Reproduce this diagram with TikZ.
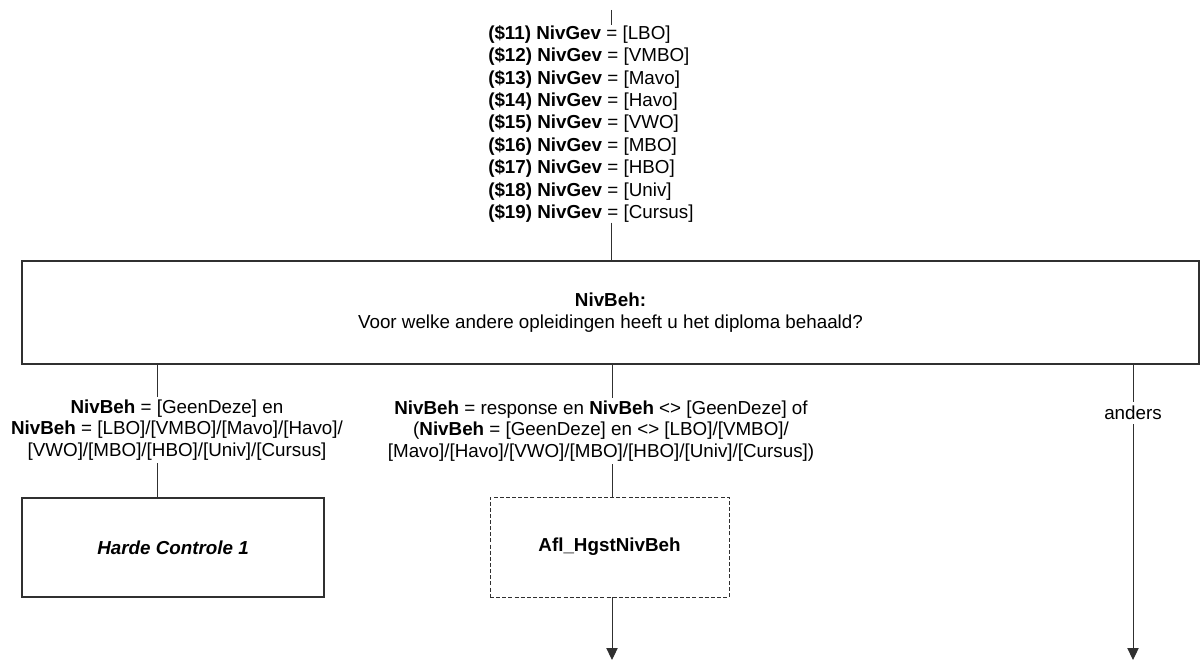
\documentclass[tikz,border=0pt]{standalone}
\usepackage{fontspec}
\setmainfont{Liberation Sans}
\usetikzlibrary{arrows.meta,positioning}
\definecolor{flowline}{HTML}{303030}

\begin{document}
\begin{tikzpicture}[
  x=0.75pt,y=-0.75pt,
  font=\fontsize{14.1}{16.3}\selectfont,
  qbox/.style={draw=flowline,line width=0.9pt,align=center,inner sep=0pt},
  calcbox/.style={qbox,dash pattern=on 3pt off 1.6pt,line width=0.7pt},
  cond/.style={align=center,inner sep=2pt},
  conn/.style={draw=flowline,line width=0.75pt},
  arr/.style={conn,-{Triangle[length=9pt,width=8.5pt]}}
]
  \useasboundingbox (0,0) rectangle (1202,666);
  \coordinate (top) at (611,10);
  \node[anchor=north west,align=left,inner sep=0pt,font=\fontsize{14.1}{16.8}\selectfont] (gev) at (488,25)
    {\textbf{(\$11) NivGev} = [LBO]\\ \textbf{(\$12) NivGev} = [VMBO]\\
     \textbf{(\$13) NivGev} = [Mavo]\\ \textbf{(\$14) NivGev} = [Havo]\\
     \textbf{(\$15) NivGev} = [VWO]\\ \textbf{(\$16) NivGev} = [MBO]\\
     \textbf{(\$17) NivGev} = [HBO]\\ \textbf{(\$18) NivGev} = [Univ]\\
     \textbf{(\$19) NivGev} = [Cursus]};
  \node[qbox,minimum width=882.75pt,minimum height=77.25pt] (nivbeh) at (610.5,312.5)
    {\textbf{NivBeh:}\\Voor welke andere opleidingen heeft u het diploma behaald?};
  \draw[conn] (top) -- (top |- gev.north);
  \draw[conn] (top |- gev.south) -- (top |- nivbeh.north);

  \coordinate (b1) at (157,364);
  \coordinate (b2) at (612,364);
  \coordinate (b3) at (1133,364);
  \node[cond] (geen) at (177,430)
    {\textbf{NivBeh} = [GeenDeze] en\\ \textbf{NivBeh} = [LBO]/[VMBO]/[Mavo]/[Havo]/\\{}[VWO]/[MBO]/[HBO]/[Univ]/[Cursus]};
  \node[qbox,minimum width=226.5pt,minimum height=74.25pt] (harde) at (173,547.5)
    {\textbf{\itshape Harde Controle 1}};
  \draw[conn] (b1) -- (b1 |- geen.north);
  \draw[conn] (b1 |- geen.south) -- (b1 |- harde.north);

  \node[cond] (resp) at (601,431)
    {\textbf{NivBeh} = response en \textbf{NivBeh} <> [GeenDeze] of\\(\textbf{NivBeh} = [GeenDeze] en <> [LBO]/[VMBO]/\\{}[Mavo]/[Havo]/[VWO]/[MBO]/[HBO]/[Univ]/[Cursus])};
  \node[calcbox,minimum width=179.25pt,minimum height=75pt] (afl) at (609.5,547)
    {\textbf{Afl\_HgstNivBeh}};
  \coordinate (e2) at (612,660);
  \draw[conn] (b2) -- (b2 |- resp.north);
  \draw[conn] (b2 |- resp.south) -- (b2 |- afl.north);
  \draw[arr] (b2 |- afl.south) -- (e2);

  \node[cond,inner sep=3pt] (anders) at (1133,413) {anders};
  \coordinate (e3) at (1133,660);
  \draw[conn] (b3) -- (anders.north);
  \draw[arr] (anders.south) -- (e3);
\end{tikzpicture}
\end{document}
